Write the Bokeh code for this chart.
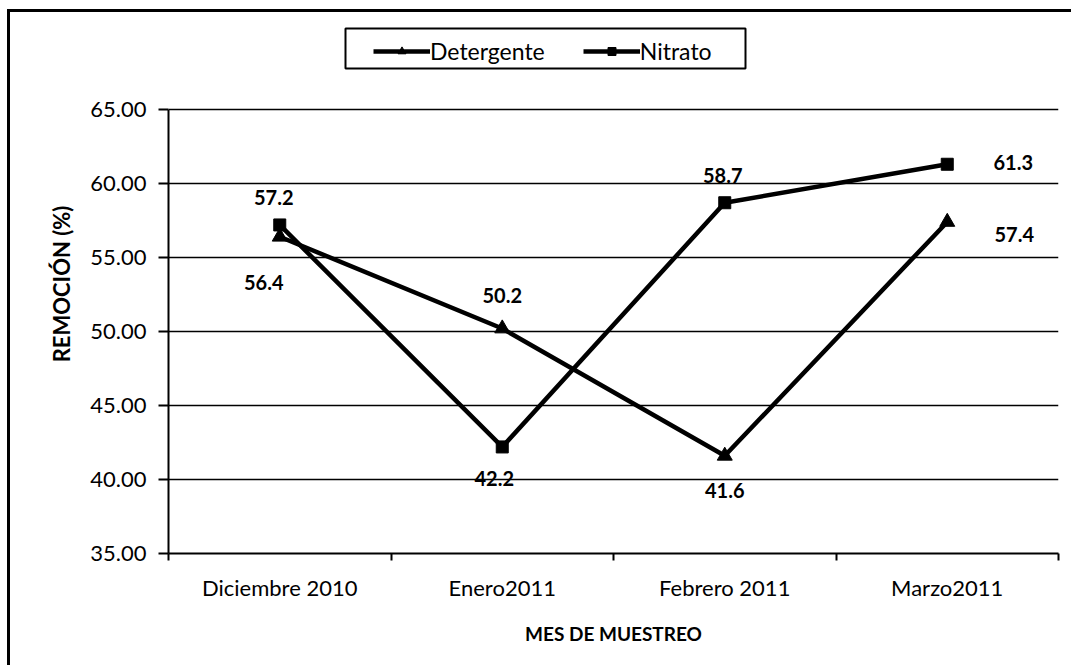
from bokeh.plotting import figure
from bokeh.models import (Legend, LegendItem, FixedTicker, ColumnDataSource,
                          NumeralTickFormatter, Range1d, BoxAnnotation)
from bokeh.core.properties import value
from bokeh.embed import file_html
from bokeh.resources import INLINE

# Monthly removal percentages
meses = ["Diciembre 2010", "Enero2011", "Febrero 2011", "Marzo2011"]
detergente = [56.4, 50.2, 41.6, 57.4]
nitrato = [57.2, 42.2, 58.7, 61.3]
y_ticks = [35, 40, 45, 50, 55, 60, 65]

# label placement (screen pixels) relative to each point
det_dx = [-16, 0, 0, 67]
det_dy = [46, -33, 35, 13]
nit_dx = [-6, -8, -2, 66]
nit_dy = [-27, 32, -27, -2]

FONT = "Lato"
OX, OY, BW = 7, 9, 3          # chart-area offset and border width
FRAME_L, FRAME_B = 168, 553   # plotting frame left / bottom in the page
Y_TOP = 109                   # where 65.00 sits in the page
FRAME_T = 14                  # frame reaches up so the legend fits inside it
LEG_BOX = (332, 732, 13, 53)  # legend frame in canvas pixels: left, right, top, bottom

y_lo, y_hi = y_ticks[0], y_ticks[-1]
px_per_unit = (FRAME_B - Y_TOP) / (y_hi - y_lo)
y_end = y_hi + (Y_TOP - FRAME_T) / px_per_unit

xs = [i + 0.5 for i in range(len(meses))]

p = figure(width=1074 - OX - BW, height=668 - OY - BW, output_backend="svg",
           toolbar_location=None,
           x_range=Range1d(0, len(meses)), y_range=Range1d(y_lo, y_end),
           min_border_left=FRAME_L - OX - BW, min_border_right=16,
           min_border_top=FRAME_T - OY - BW,
           min_border_bottom=668 - FRAME_B, margin=(OY, 0, 0, OX))
p.outline_line_color = None
p.background_fill_color = "white"
p.border_fill_color = "white"

# axes
p.xaxis.ticker = FixedTicker(ticks=xs, minor_ticks=list(range(len(meses) + 1)))
p.xaxis.major_label_overrides = {x: m for x, m in zip(xs, meses)}
p.xaxis.major_tick_out = 0
p.xaxis.major_tick_in = 0
p.xaxis.minor_tick_out = 7
p.xaxis.minor_tick_in = 0
p.xaxis.minor_tick_line_color = "black"
p.xaxis.minor_tick_line_width = 2
p.xaxis.axis_line_width = 2
p.xaxis.axis_line_color = "black"
p.xaxis.major_label_standoff = 13
p.xaxis.major_label_text_font = FONT
p.xaxis.major_label_text_font_size = "22px"
p.xaxis.major_label_text_color = "black"
p.xaxis.axis_label = "MES DE MUESTREO"
p.xaxis.axis_label_text_font = FONT
p.xaxis.axis_label_text_font_size = "19px"
p.xaxis.axis_label_text_font_style = "bold"
p.xaxis.axis_label_standoff = 18
p.xaxis.axis_label_text_color = "black"

p.yaxis.ticker = FixedTicker(ticks=y_ticks, minor_ticks=[])
p.yaxis.bounds = (y_lo, y_hi)
p.yaxis.formatter = NumeralTickFormatter(format="0.00")
p.yaxis.major_tick_out = 10
p.yaxis.major_tick_in = 0
p.yaxis.major_tick_line_width = 2
p.yaxis.major_tick_line_color = "black"
p.yaxis.axis_line_width = 2
p.yaxis.axis_line_color = "black"
p.yaxis.major_label_standoff = 12
p.yaxis.major_label_text_font = FONT
p.yaxis.major_label_text_font_size = "22px"
p.yaxis.major_label_text_color = "black"
p.yaxis.axis_label = "REMOCIÓN (%)"
p.yaxis.axis_label_text_font = FONT
p.yaxis.axis_label_text_font_size = "22px"
p.yaxis.axis_label_text_font_style = "bold"
p.yaxis.axis_label_standoff = 12
p.yaxis.axis_label_text_color = "black"

p.xgrid.grid_line_color = None
p.ygrid.grid_line_color = "black"
p.ygrid.grid_line_width = 1.5

# series
src_d = ColumnDataSource(dict(x=xs, y=detergente, lab=[f"{v:.1f}" for v in detergente],
                              dx=det_dx, dy=det_dy))
src_n = ColumnDataSource(dict(x=xs, y=nitrato, lab=[f"{v:.1f}" for v in nitrato],
                              dx=nit_dx, dy=nit_dy))

ld = p.line("x", "y", source=src_d, line_color="black", line_width=4.5)
md = p.scatter("x", "y", source=src_d, marker="triangle", size=15,
               fill_color="black", line_color="black")
ln = p.line("x", "y", source=src_n, line_color="black", line_width=4.5)
mn = p.scatter("x", "y", source=src_n, marker="square", size=12,
               fill_color="black", line_color="black")

for src in (src_d, src_n):
    p.text("x", "y", text="lab", source=src, x_offset="dx", y_offset="dy",
           text_align="center", text_baseline="middle",
           text_font=value(FONT), text_font_size="20px", text_font_style="bold",
           text_color="black")

# legend frame (canvas pixels, origin at the canvas top-left)
p.add_layout(BoxAnnotation(left=LEG_BOX[0], right=LEG_BOX[1],
                           top=LEG_BOX[2], bottom=LEG_BOX[3],
                           left_units="canvas", right_units="canvas",
                           top_units="canvas", bottom_units="canvas",
                           fill_alpha=0, line_color="black", line_width=2,
                           line_alpha=1.0))

legend = Legend(items=[LegendItem(label="Detergente", renderers=[ld, md]),
                       LegendItem(label="Nitrato", renderers=[ln, mn])],
                orientation="horizontal",
                location=(375 - 2 - FRAME_L, FRAME_B - 65),
                label_text_font=FONT, label_text_font_size="23px",
                label_text_color="black", glyph_width=57, glyph_height=20,
                label_standoff=0, spacing=38, padding=6, margin=0,
                border_line_color=None, background_fill_alpha=0)
p.add_layout(legend)

# chart-area border along the left and top edges
p.styles = {"border-left": f"{BW}px solid black", "border-top": f"{BW}px solid black"}

open("out.html", "w").write(file_html(p, INLINE))
